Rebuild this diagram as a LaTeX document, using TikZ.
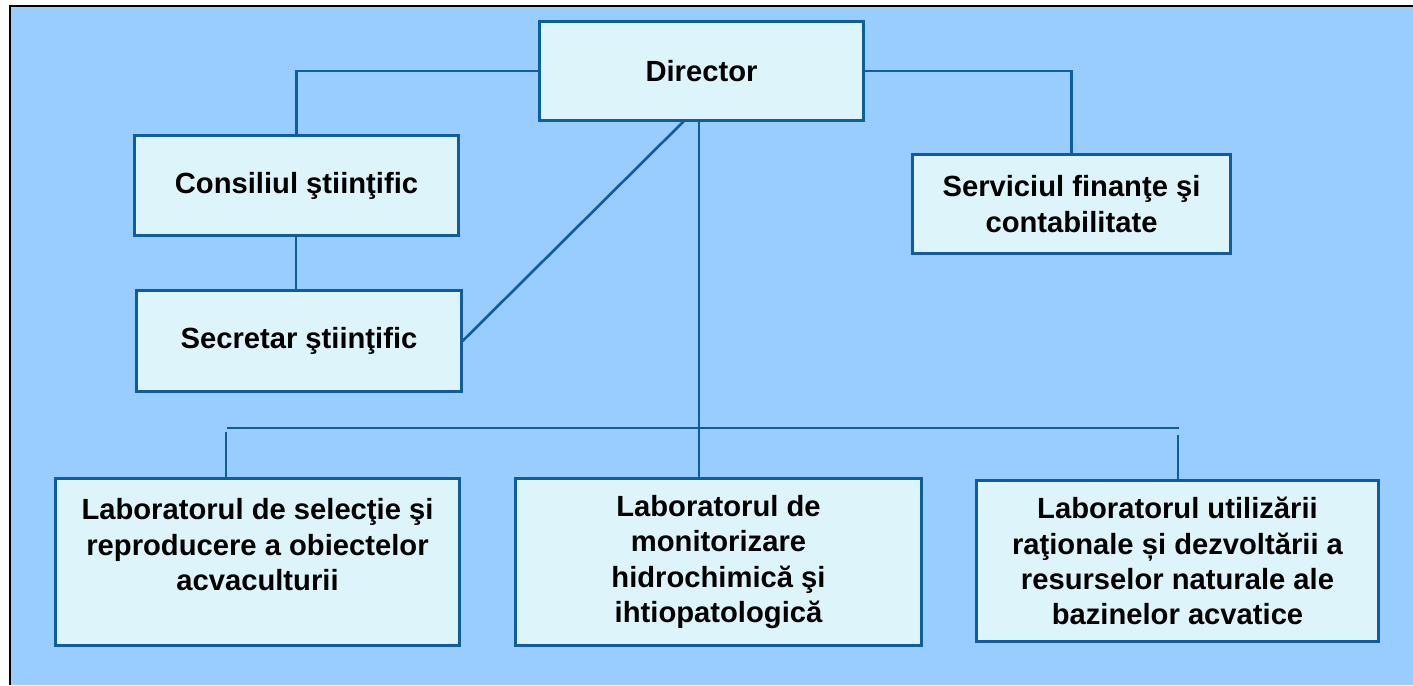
\documentclass[tikz,border=0pt]{standalone}
\usepackage{fontspec}
\setmainfont{Liberation Sans}
\usepackage{tikz}
\usetikzlibrary{positioning}

\definecolor{fond}{HTML}{99CCFF}
\definecolor{cutie}{HTML}{DDF5FA}
\definecolor{linie}{HTML}{0E5DA0}

\begin{document}
\begin{tikzpicture}[x=0.01cm, y=-0.01cm, font=\fontsize{8.3}{10}\selectfont\bfseries]
		\useasboundingbox (0,0) rectangle (1413,685);
		\fill[fond] (10,6) rectangle (1413,685);
		\draw[line width=0.8pt] (10,685) -- (10,6) -- (1413,6);

		\begin{scope}[every node/.style={rectangle, draw=linie, line width=0.85pt, fill=cutie, inner sep=0pt, align=center}]
			\node[minimum width=3.23cm, minimum height=0.98cm] (D) at (701.5,71) {Director};
			\node[minimum width=3.23cm, minimum height=0.99cm] (C) at (296.5,185.5) {Consiliul ştiinţific};
			\node[minimum width=3.24cm, minimum height=1cm] (S) at (299,341) {Secretar ştiinţific};
			\node[minimum width=3.17cm, minimum height=0.98cm] (F) at (1071.5,204) {Serviciul finanţe şi\\contabilitate};

			\node[minimum width=4.03cm, minimum height=1.66cm] (L1) at (257.5,562) {Laboratorul de selecţie şi\\reproducere a obiectelor\\acvaculturii\\ \mbox{}};
			\node[minimum width=4.05cm, minimum height=1.66cm] (L2) at (718.5,562) {Laboratorul de\\monitorizare\\hidrochimică şi\\ihtiopatologică};
			\node[minimum width=4.01cm, minimum height=1.6cm] (L3) at (1177.5,561) {Laboratorul utilizării\\raţionale și dezvoltării a\\resurselor naturale ale\\bazinelor acvatice};
		\end{scope}

		\coordinate (m) at (699,428);
		\coordinate (bl) at (227,428);
		\coordinate (br) at (1179,428);
		\coordinate (l1) at (226,432);
		\coordinate (l3) at (1178,435);
		\coordinate (dg) at (685,120);

		\begin{scope}[draw=linie, line width=0.75pt]
			\draw (D) -| (C);
			\draw (D) -| (F);
			\draw (C.south -| 296,0) -- (S.north -| 296,0);
			\draw (S.east) -- (dg);
			\draw (D.south -| m) -- (L2.north -| m);
			\draw (bl) -- (br);
			\draw (l1) -- (l1 |- L1.north);
			\draw (l3) -- (l3 |- L3.north);
		\end{scope}
		\end{tikzpicture}
\end{document}
